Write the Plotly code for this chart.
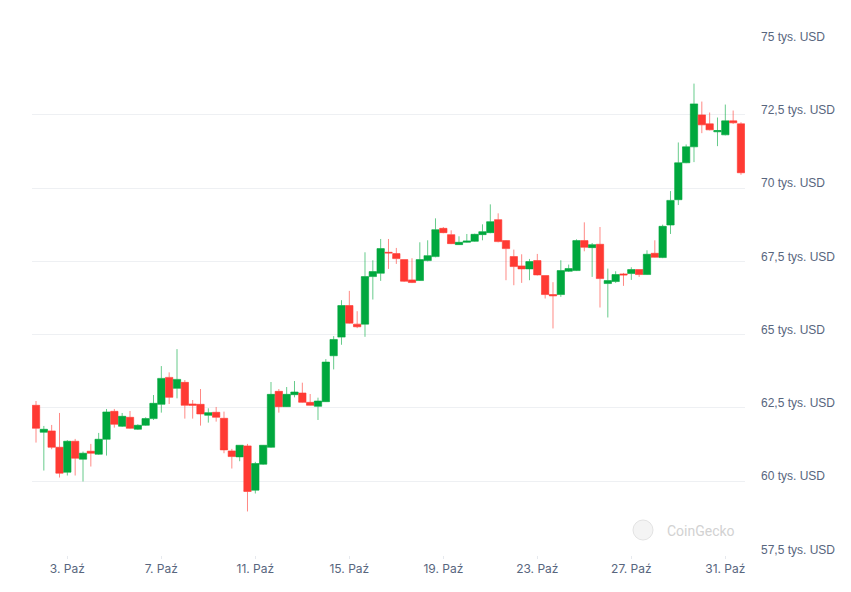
import pandas as pd
import plotly.graph_objects as go

# 8-hour candles, BTC/USD, October
start_time = "2024-10-01 16:00"
n_candles = 91

open_ = [62588, 61668, 61714, 61157, 60306, 61362, 60749, 61021, 60919, 61430,
         62383, 61873, 62179, 61770, 61907, 62134, 62622, 63541, 63167, 63371,
         62633, 62622, 62247, 62350, 62145, 61032, 60828, 61203, 59693, 60578,
         61157, 63065, 62542, 62951, 63008, 62690, 62553, 62712, 64279, 64915,
         65993, 65358, 65358, 66981, 67095, 67810, 67765, 67560, 66868, 66845,
         67526, 67662, 68627, 68412, 68071, 68151, 68185, 68412, 68480, 68923,
         68208, 67663, 67345, 67243, 67527, 67016, 66368, 66368, 67163, 67186,
         68208, 67969, 68083, 66743, 66811, 67072, 67084, 67220, 67050, 67776,
         67629, 68741, 69604, 70864, 71409, 72499, 72193, 71920, 71818, 72295,
         72193]
high = [62735, 61884, 61918, 62327, 61400, 61441, 61010, 61271, 61646, 62463,
        62463, 62327, 62395, 61941, 62179, 62940, 63927, 63712, 64506, 63450,
        62769, 63144, 62486, 62531, 62372, 61101, 61225, 61271, 60658, 61230,
        63383, 63144, 63212, 63417, 63360, 62974, 62849, 64165, 64949, 66175,
        66493, 65800, 67810, 67537, 68264, 68264, 67958, 67560, 67606, 68151,
        68219, 68968, 68673, 68559, 68355, 68435, 68446, 68764, 69445, 69139,
        68220, 67901, 67742, 67583, 67754, 67016, 66789, 67538, 67390, 68253,
        68832, 68128, 68673, 67254, 67163, 67106, 67299, 67220, 67878, 68219,
        68753, 69899, 71557, 71489, 73566, 72953, 72579, 72408, 72851, 72647,
        72249]
low = [61316, 60363, 61089, 60124, 60192, 60192, 59988, 60499, 60900, 60873,
       61827, 61850, 61790, 61750, 61890, 62088, 62338, 62633, 62826, 62134,
       62134, 61895, 61997, 62032, 60953, 60431, 60680, 58966, 59579, 60560,
       61140, 62338, 62530, 62860, 62680, 62580, 62088, 62700, 63813, 64654,
       65380, 65221, 64926, 66198, 66834, 67242, 67413, 66800, 66760, 66830,
       67500, 67640, 68460, 68090, 68060, 68140, 68170, 68219, 68460, 68150,
       66857, 66686, 66766, 66857, 67020, 66232, 65211, 66289, 67140, 67170,
       67844, 66970, 65926, 65585, 66766, 66664, 66868, 66970, 67040, 67630,
       67610, 68435, 69422, 70850, 70887, 71875, 71970, 71432, 71800, 72193,
       70455]
close = [61804, 61770, 61157, 60272, 61362, 60783, 60953, 60953, 61430, 62361,
         61941, 62213, 61804, 61907, 62134, 62656, 63507, 62860, 63473, 62588,
         62588, 62293, 62338, 62179, 61067, 60839, 61225, 59647, 60601, 61225,
         62962, 62542, 62962, 63042, 62690, 62588, 62735, 64063, 64835, 65993,
         65392, 65267, 66981, 67151, 67935, 67787, 67594, 66822, 66777, 67560,
         67696, 68582, 68480, 68105, 68151, 68196, 68423, 68514, 68855, 68174,
         67935, 67322, 67243, 67492, 67038, 66368, 66323, 67186, 67254, 68208,
         67981, 68071, 66913, 66845, 67050, 67038, 67220, 67050, 67742, 67640,
         68696, 69581, 70864, 71409, 72874, 72158, 71988, 71965, 72295, 72227,
         70524]

x_tick_vals = ["2024-10-03", "2024-10-07", "2024-10-11", "2024-10-15",
               "2024-10-19", "2024-10-23", "2024-10-27", "2024-10-31"]
x_tick_text = ["3. Paź", "7. Paź", "11. Paź", "15. Paź",
               "19. Paź", "23. Paź", "27. Paź", "31. Paź"]
y_tick_vals = [57500, 60000, 62500, 65000, 67500, 70000, 72500, 75000]
y_tick_text = ["57,5 tys. USD", "60 tys. USD", "62,5 tys. USD", "65 tys. USD",
               "67,5 tys. USD", "70 tys. USD", "72,5 tys. USD", "75 tys. USD"]

times = pd.date_range(start_time, periods=n_candles, freq="8h")

W, H = 851, 592
ml, mr, mt, mb = 32, 106, 41, 37
pw, ph = W - ml - mr, H - mt - mb


def px_x(p):
    return (p - ml) / pw


def px_y(p):
    return (H - mb - p) / ph


fig = go.Figure(go.Candlestick(
    x=times, open=open_, high=high, low=low, close=close,
    increasing=dict(fillcolor="#00a83e", line=dict(color="rgba(0,168,62,0.6)", width=1)),
    decreasing=dict(fillcolor="#ff3a33", line=dict(color="rgba(255,58,51,0.6)", width=1)),
    whiskerwidth=0,
    hoverinfo="x+y",
))

fig.update_layout(
    width=W, height=H,
    margin=dict(l=ml, r=mr, t=mt, b=mb),
    paper_bgcolor="white", plot_bgcolor="white",
    showlegend=False,
    boxgap=0.06, boxgroupgap=0,
    xaxis=dict(
        type="date",
        range=["2024-10-01 11:55", "2024-10-31 20:06"],
        rangeslider=dict(visible=False),
        showgrid=False, zeroline=False, showline=False,
        tickmode="array", tickvals=x_tick_vals, ticktext=x_tick_text,
        ticks="outside", ticklen=3, tickcolor="#e6e9ee",
        tickfont=dict(family="Inter", size=12, color="#58667e"),
    ),
    yaxis=dict(
        side="right",
        range=[57480, 75020],
        showgrid=True, gridcolor="#eef0f3", gridwidth=1,
        zeroline=False, showline=False,
        tickmode="array", tickvals=y_tick_vals, ticktext=y_tick_text,
        ticks="", ticklabelstandoff=15, ticklabelshift=-5,
        tickfont=dict(family="Liberation Sans", size=12, color="#58667e"),
    ),
    shapes=[dict(
        type="circle", xref="paper", yref="paper",
        x0=px_x(633), x1=px_x(653), y0=px_y(540), y1=px_y(520),
        fillcolor="#f4f4f4", line=dict(color="#e3e3e3", width=1), layer="below",
    )],
    annotations=[dict(
        text="CoinGecko", xref="paper", yref="paper",
        x=px_x(665), y=px_y(531), xanchor="left", yanchor="middle",
        showarrow=False, font=dict(family="Roboto", size=14, color="#d2d2d2"),
    )],
)

fig.write_html("out.html")
